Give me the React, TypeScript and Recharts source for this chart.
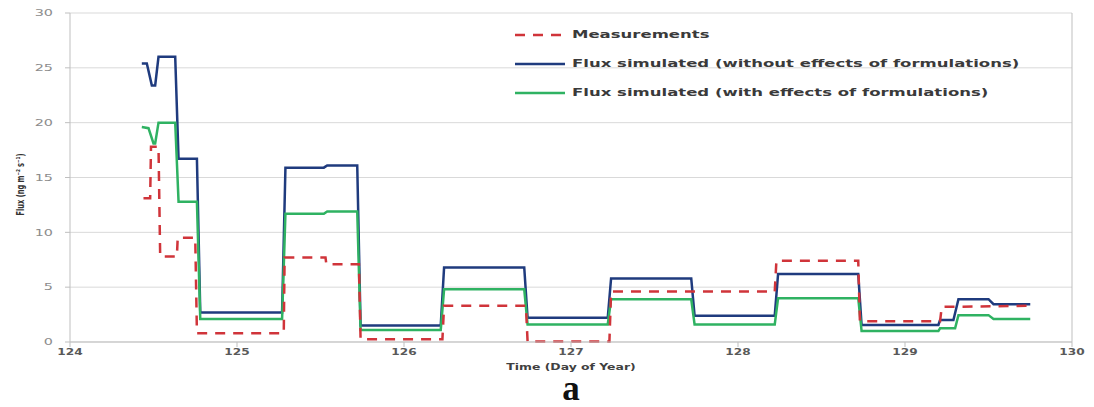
import { LineChart, Line, XAxis, YAxis, CartesianGrid, Legend, ReferenceLine, Label } from 'recharts';

// Measured flux (dashed red), vertices of the step curve
const measTime = [124.44, 124.48, 124.485, 124.53, 124.54, 124.64, 124.645, 124.75, 124.76, 125.28, 125.285, 125.53, 125.535, 125.73, 125.74, 126.23, 126.24, 126.73, 126.74, 127.23, 127.24, 128.22, 128.23, 128.72, 128.73, 129.21, 129.22, 129.75];
const measFlux = [13.1, 13.1, 17.8, 17.8, 7.8, 7.8, 9.5, 9.5, 0.8, 0.8, 7.7, 7.7, 7.1, 7.1, 0.25, 0.25, 3.3, 3.3, 0.05, 0.05, 4.6, 4.6, 7.4, 7.4, 1.9, 1.9, 3.2, 3.3];

// Simulated flux without effects of formulations (blue)
const noFormTime = [124.43, 124.46, 124.49, 124.51, 124.53, 124.63, 124.65, 124.76, 124.78, 125.27, 125.29, 125.52, 125.54, 125.72, 125.74, 126.22, 126.24, 126.72, 126.74, 127.22, 127.24, 127.72, 127.74, 128.22, 128.24, 128.72, 128.74, 129.2, 129.21, 129.29, 129.32, 129.5, 129.53, 129.75];
const noFormFlux = [25.4, 25.4, 23.4, 23.4, 26.0, 26.0, 16.7, 16.7, 2.7, 2.7, 15.9, 15.9, 16.1, 16.1, 1.5, 1.5, 6.8, 6.8, 2.2, 2.2, 5.8, 5.8, 2.4, 2.4, 6.2, 6.2, 1.55, 1.55, 2.0, 2.0, 3.9, 3.9, 3.45, 3.45];

// Simulated flux with effects of formulations (green)
const withFormTime = [124.43, 124.47, 124.5, 124.51, 124.53, 124.63, 124.65, 124.76, 124.78, 125.27, 125.29, 125.52, 125.54, 125.72, 125.74, 126.22, 126.24, 126.72, 126.74, 127.22, 127.24, 127.72, 127.74, 128.22, 128.24, 128.72, 128.74, 129.2, 129.21, 129.3, 129.32, 129.5, 129.53, 129.75];
const withFormFlux = [19.6, 19.5, 18.1, 18.1, 20.0, 20.0, 12.8, 12.8, 2.1, 2.1, 11.7, 11.7, 11.9, 11.9, 1.1, 1.1, 4.8, 4.8, 1.6, 1.6, 3.9, 3.9, 1.6, 1.6, 4.0, 4.0, 1.0, 1.0, 1.25, 1.25, 2.45, 2.45, 2.1, 2.1];

const xTicks = [124, 125, 126, 127, 128, 129, 130];
const yTicks = [0, 5, 10, 15, 20, 25, 30];

const legendLabels = [
  'Measurements',
  'Flux simulated (without effects of formulations)',
  'Flux simulated (with effects of formulations)',
];

const RED = '#D0343A';
const BLUE = '#1F3B7E';
const GREEN = '#2FB262';

const toPoints = (ts: number[], vs: number[]) => ts.map((t, i) => ({ t, v: vs[i] }));

const measData = toPoints(measTime, measFlux);
const noFormData = toPoints(noFormTime, noFormFlux);
const withFormData = toPoints(withFormTime, withFormFlux);

const XTick = ({ x, y, payload }: any) => (
  <g transform={`translate(${x},${y}) scale(1.35,1)`}>
    <text x={0} y={0} dy="0.71em" textAnchor="middle" fill="#595959" fontSize={9} fontWeight="bold" fontFamily="DejaVu Sans">
      {payload.value}
    </text>
  </g>
);

const YTick = ({ x, y, payload }: any) => (
  <g transform={`translate(${x - 10},${y}) scale(1.6,1)`}>
    <text x={0} y={0} dy="0.355em" textAnchor="end" fill="#8C8C8C" fontSize={9} fontFamily="DejaVu Sans">
      {payload.value}
    </text>
  </g>
);

const renderLegend = () => {
  const styles = [
    { color: RED, dash: '10 8', width: 2.5 },
    { color: BLUE, dash: undefined, width: 2.5 },
    { color: GREEN, dash: undefined, width: 2.5 },
  ];
  return (
    <div style={{ display: 'flex', flexDirection: 'column' }}>
      {legendLabels.map((label, i) => (
        <div key={label} style={{ height: 29, display: 'flex', alignItems: 'center' }}>
          <svg width={57} height={10} style={{ flex: 'none' }}>
            <line x1={0} y1={5} x2={50} y2={5} stroke={styles[i].color} strokeWidth={styles[i].width} strokeDasharray={styles[i].dash} />
          </svg>
          <span
            style={{
              fontFamily: 'DejaVu Sans',
              fontWeight: 'bold',
              fontSize: 11,
              color: '#3A3A3A',
              display: 'inline-block',
              whiteSpace: 'nowrap',
              transform: 'scaleX(1.5)',
              transformOrigin: 'left center',
            }}
          >
            {label}
          </span>
        </div>
      ))}
    </div>
  );
};

const renderXTitle = ({ viewBox }: any) => {
  const cx = viewBox.x + viewBox.width / 2;
  return (
    <g transform={`translate(${cx},${viewBox.y + 28}) scale(1.38,1)`}>
      <text x={0} y={0} textAnchor="middle" fill="#404040" fontSize={9} fontWeight="bold" fontFamily="DejaVu Sans">
        Time (Day of Year)
      </text>
    </g>
  );
};

const renderPanel = ({ viewBox }: any) => {
  const cx = viewBox.x + viewBox.width / 2;
  return (
    <text x={cx} y={viewBox.y + 58} textAnchor="middle" fill="#111" fontSize={35} fontWeight="bold" fontFamily="Liberation Serif">
      a
    </text>
  );
};

const renderYTitle = ({ viewBox }: any) => {
  const cy = viewBox.y + viewBox.height / 2 + 7;
  return (
    <text
      x={0}
      y={0}
      transform={`translate(24,${cy}) rotate(-90)`}
      textAnchor="middle"
      fill="#333"
      fontSize={10}
      fontWeight="bold"
      fontFamily="DejaVu Sans Condensed, Liberation Sans, sans-serif"
      textLength={62}
      lengthAdjust="spacingAndGlyphs"
    >
      Flux (ng m⁻² s⁻¹)
    </text>
  );
};

const App = () => {
  return (
    <div style={{ position: 'absolute', left: 0, top: 0, width: 1094, height: 407, background: '#fff' }}>
      <LineChart width={1094} height={407} margin={{ top: 13, right: 22, left: 0, bottom: 0 }}>
        <CartesianGrid vertical={false} stroke="#D9D9D9" strokeWidth={1} />
        <XAxis
          dataKey="t"
          type="number"
          domain={[124, 130]}
          ticks={xTicks}
          height={65}
          stroke="#BFBFBF"
          tickSize={5}
          tick={<XTick />}
          allowDuplicatedCategory={false}
        >
          <Label content={renderXTitle} />
          <Label content={renderPanel} />
        </XAxis>
        <YAxis
          type="number"
          domain={[0, 30]}
          ticks={yTicks}
          width={70}
          stroke="#BFBFBF"
          tickSize={5}
          tick={<YTick />}
        >
          <Label content={renderYTitle} />
        </YAxis>
        <ReferenceLine x={130} stroke="#BFBFBF" />
        <Legend
          layout="horizontal"
          verticalAlign="middle"
          align="center"
          wrapperStyle={{ top: 20, left: 515, width: 570 }}
          content={renderLegend}
        />
        <Line data={noFormData} dataKey="v" type="linear" stroke={BLUE} strokeWidth={2.5} dot={false} isAnimationActive={false} />
        <Line data={withFormData} dataKey="v" type="linear" stroke={GREEN} strokeWidth={2.5} dot={false} isAnimationActive={false} />
        <Line data={measData} dataKey="v" type="linear" stroke={RED} strokeWidth={2.5} strokeDasharray="10 8" dot={false} isAnimationActive={false} />
      </LineChart>
    </div>
  );
};

export default App;
